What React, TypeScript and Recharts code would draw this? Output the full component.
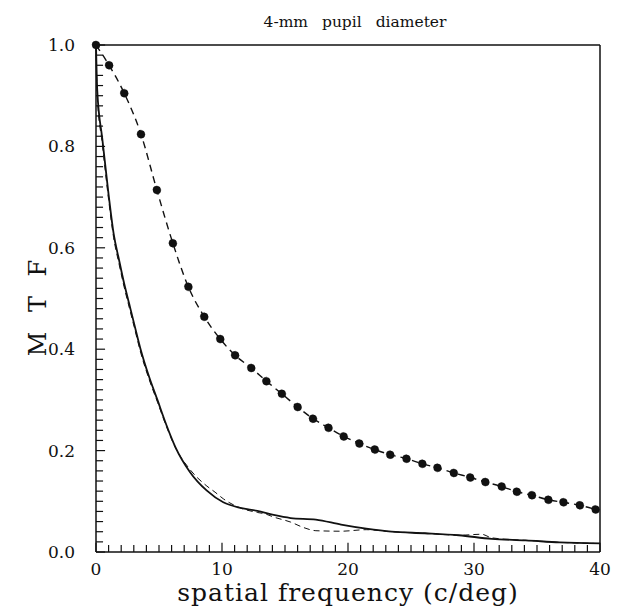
import { LineChart, Line, XAxis, YAxis, ReferenceLine } from 'recharts';

// filled-circle curve (dashed line through dots)
const dotFreq = [0, 1.04, 2.24, 3.57, 4.83, 6.1, 7.33, 8.59, 9.86, 11.04, 12.32, 13.52, 14.75, 16.0, 17.22, 18.45, 19.66, 20.9, 22.13, 23.35, 24.64, 25.9, 27.1, 28.4, 29.7, 30.9, 32.2, 33.4, 34.6, 35.9, 37.1, 38.4, 39.65];
const dotMtf = [1.0, 0.96, 0.905, 0.824, 0.714, 0.609, 0.523, 0.464, 0.42, 0.388, 0.363, 0.337, 0.312, 0.286, 0.263, 0.245, 0.228, 0.214, 0.202, 0.192, 0.184, 0.174, 0.166, 0.156, 0.147, 0.138, 0.129, 0.119, 0.112, 0.103, 0.098, 0.092, 0.084];

// solid curve
const solidFreq = [0, 0.1, 0.5, 1.0, 1.4, 1.83, 2.23, 2.63, 3.03, 3.56, 4.22, 4.89, 5.55, 6.3, 7.45, 8.8, 10.1, 11.45, 12.8, 14.1, 15.45, 17.45, 19.45, 21.45, 23.45, 26.1, 28.8, 31.4, 34.1, 36.8, 40];
const solidMtf = [1.0, 0.91, 0.815, 0.705, 0.628, 0.576, 0.53, 0.49, 0.45, 0.398, 0.345, 0.299, 0.253, 0.207, 0.158, 0.121, 0.098, 0.087, 0.081, 0.073, 0.067, 0.064, 0.054, 0.046, 0.04, 0.037, 0.033, 0.026, 0.023, 0.019, 0.017];

// thin dashed curve
const dashFreq = [0, 0.1, 0.5, 1.0, 1.4, 1.83, 2.23, 2.63, 3.03, 3.56, 4.22, 4.89, 5.55, 6.3, 7.45, 8.8, 9.45, 10.1, 11.45, 12.8, 13.45, 14.1, 15.45, 16.5, 17.45, 19.45, 21.45, 23.45, 26.1, 28.8, 30.6, 31.4, 34.1, 36.8, 39.5];
const dashMtf = [1.0, 0.9, 0.805, 0.695, 0.62, 0.568, 0.523, 0.483, 0.444, 0.392, 0.34, 0.295, 0.25, 0.206, 0.163, 0.13, 0.118, 0.105, 0.087, 0.078, 0.075, 0.069, 0.059, 0.048, 0.042, 0.041, 0.044, 0.04, 0.037, 0.033, 0.035, 0.028, 0.023, 0.019, 0.017];

const xMajor = [0, 10, 20, 30, 40];
const yMajor = [0, 0.2, 0.4, 0.6, 0.8, 1.0];
const xTicks = Array.from({ length: 41 }, (_, i) => i);
const yTicks = Array.from({ length: 51 }, (_, i) => +(i * 0.02).toFixed(2));

const dotData = dotFreq.map((f, i) => ({ f, v: dotMtf[i] }));
const solidData = solidFreq.map((f, i) => ({ f, v: solidMtf[i] }));
const dashData = dashFreq.map((f, i) => ({ f, v: dashMtf[i] }));

const serif = '"DejaVu Serif", serif';
const ink = '#111';

const isMajorY = (v: number) => yMajor.some((m) => Math.abs(m - v) < 1e-6);

export default function App() {
  return (
    <div style={{ position: 'absolute', left: 0, top: 0, width: 624, height: 608, background: '#fff' }}>
      <LineChart width={624} height={608} margin={{ top: 45, right: 24, bottom: 0, left: 0 }}>
        <XAxis
          dataKey="f"
          type="number"
          domain={[0, 40]}
          ticks={xTicks}
          interval={0}
          height={56}
          tickSize={8}
          tickMargin={3}
          stroke={ink}
          tickLine={false}
          tick={{ fontFamily: serif, fontSize: 17, fill: ink }}
          tickFormatter={(v: number) => (xMajor.includes(v) ? String(v) : '')}
          axisLine={{ stroke: ink, strokeWidth: 1.5 }}
        />
        <YAxis
          type="number"
          domain={[0, 1]}
          ticks={yTicks}
          interval={0}
          width={96}
          tickSize={8}
          tickMargin={13}
          stroke={ink}
          tickLine={false}
          tick={{ fontFamily: serif, fontSize: 17, fill: ink }}
          tickFormatter={(v: number) => (isMajorY(v) ? v.toFixed(1) : '')}
          axisLine={{ stroke: ink, strokeWidth: 1.5 }}
        />
        <ReferenceLine y={1} stroke={ink} strokeWidth={1.5} />
        <ReferenceLine x={40} stroke={ink} strokeWidth={1.5} />
        {/* tick combs along the two axes, drawn through the chart's own scales */}
        {xTicks.map((t) => (
          <ReferenceLine
            key={`xt${t}`}
            segment={[{ x: t, y: 0 }, { x: t, y: xMajor.includes(t) ? 0.018 : 0.014 }]}
            stroke={ink}
            strokeWidth={1.2}
          />
        ))}
        {yTicks.map((t) => (
          <ReferenceLine
            key={`yt${t}`}
            segment={[{ x: 0, y: t }, { x: isMajorY(t) ? 0.72 : 0.56, y: t }]}
            stroke={ink}
            strokeWidth={1.2}
          />
        ))}
        <Line
          data={dashData}
          dataKey="v"
          type="monotone"
          stroke={ink}
          strokeWidth={1}
          strokeDasharray="6 4"
          dot={false}
          isAnimationActive={false}
        />
        <Line
          data={solidData}
          dataKey="v"
          type="monotone"
          stroke={ink}
          strokeWidth={1.8}
          dot={false}
          isAnimationActive={false}
        />
        <Line
          data={dotData}
          dataKey="v"
          type="monotone"
          stroke={ink}
          strokeWidth={1.4}
          strokeDasharray="7 5"
          dot={{ r: 4, fill: ink, stroke: ink, strokeWidth: 0.5 }}
          isAnimationActive={false}
        />
      </LineChart>
      <div
        style={{
          position: 'absolute', left: 355, top: 22, transform: 'translate(-50%, -50%)',
          fontFamily: serif, fontSize: 15.5, color: ink, whiteSpace: 'nowrap', wordSpacing: 9,
        }}
      >
        4-mm pupil diameter
      </div>
      <div
        style={{
          position: 'absolute', left: 348, top: 592, transform: 'translate(-50%, -50%)',
          fontFamily: serif, fontSize: 25, lineHeight: '25px', color: ink, whiteSpace: 'nowrap', letterSpacing: 1,
        }}
      >
        spatial frequency (c/deg)
      </div>
      <div
        style={{
          position: 'absolute', left: 38, top: 308, transform: 'translate(-50%, -50%) rotate(-90deg)',
          fontFamily: serif, fontSize: 24, lineHeight: '24px', color: ink, whiteSpace: 'nowrap', wordSpacing: 12,
        }}
      >
        M T F
      </div>
    </div>
  );
}
